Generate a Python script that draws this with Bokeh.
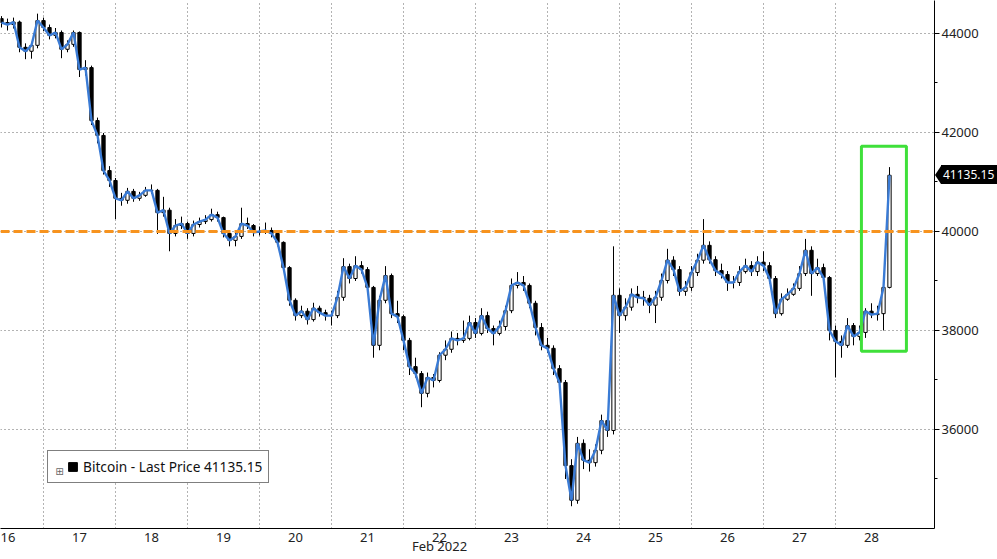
import pandas as pd
from bokeh.plotting import figure
from bokeh.layouts import column
from bokeh.models import (Range1d, FixedTicker, Span, BoxAnnotation, LinearAxis,
                          Legend, LegendItem, ColumnDataSource, Div)
from bokeh.embed import file_html
from bokeh.resources import INLINE

# ---- data: Bitcoin 2-hour bars, Feb 16 10:00 -> Feb 28 2022 ----
bar_start = "2022-02-16 10:00"
first_open = 44300
closes = [44220, 44180, 44230, 43720, 43640, 43760, 44260, 44120, 43960, 44020,
          43680, 43780, 44020, 43270, 43310, 42240, 41940, 41230, 41030, 40670,
          40630, 40810, 40670, 40730, 40830, 40830, 40380, 40430, 39960, 40120,
          40160, 39960, 40140, 40200, 40240, 40340, 40280, 39960, 39820, 39900,
          40160, 40120, 39980, 40000, 40020, 39960, 39780, 39270, 38610, 38300,
          38390, 38220, 38450, 38360, 38300, 38300, 38670, 39290, 39050, 39310,
          39230, 38870, 37700, 38610, 39110, 38340, 38280, 37800, 37270, 37130,
          36730, 37050, 36990, 37500, 37620, 37840, 37800, 37840, 38160, 37940,
          38300, 38040, 37940, 38080, 38400, 38910, 38970, 38910, 38550, 38060,
          37700, 37640, 37230, 36950, 35270, 34570, 35720, 35380, 35330, 35580,
          36180, 35980, 38710, 38300, 38470, 38730, 38670, 38650, 38510, 38670,
          39010, 39420, 39230, 38790, 38870, 39170, 39420, 39720, 39430, 39210,
          39130, 38970, 38970, 39190, 39310, 39190, 39380, 39310, 39050, 38340,
          38630, 38730, 38850, 39150, 39620, 39150, 39270, 39070, 38000, 37780,
          37700, 38100, 37880, 37960, 38390, 38320, 38340, 38870, 41135.15]
highs = [44350, 44300, 44320, 44260, 43800, 43830, 44400, 44320, 44180, 44110,
         44060, 43860, 44060, 44040, 43460, 43350, 42300, 41990, 41320, 41080,
         40780, 40880, 40860, 40800, 40900, 40950, 40860, 40700, 40480, 40250,
         40300, 40200, 40220, 40280, 40330, 40460, 40400, 40300, 40000, 39980,
         40480, 40280, 40150, 40100, 40180, 40080, 39990, 39800, 39300, 38650,
         38500, 38450, 38560, 38500, 38420, 38400, 38800, 39460, 39350, 39500,
         39400, 39280, 38900, 38700, 39300, 39150, 38600, 38320, 37850, 37450,
         37180, 37150, 37120, 37560, 37800, 37980, 37950, 38200, 38300, 38250,
         38450, 38380, 38100, 38200, 38500, 39050, 39180, 39100, 38950, 38600,
         38150, 37850, 37700, 37300, 37000, 35400, 35850, 35800, 35600, 35700,
         36300, 36250, 39700, 38850, 38650, 38850, 38900, 38800, 38720, 38800,
         39150, 39650, 39500, 39300, 39000, 39300, 39550, 40250, 39800, 39500,
         39350, 39200, 39100, 39300, 39450, 39400, 39500, 39600, 39380, 39100,
         38750, 38850, 38950, 39300, 39850, 39700, 39450, 39350, 39100, 38100,
         37900, 38250, 38150, 38100, 38450, 38550, 38500, 38900, 41300]
lows = [44120, 44060, 44100, 43620, 43480, 43490, 43700, 44050, 43880, 43900,
        43500, 43620, 43730, 43120, 43150, 42150, 41780, 41150, 40900, 40250,
        40520, 40560, 40600, 40620, 40700, 40760, 39950, 40300, 39600, 39900,
        40050, 39850, 39900, 40080, 40150, 40200, 40200, 39880, 39700, 39700,
        39850, 40050, 39900, 39920, 39950, 39880, 39700, 39200, 38500, 38200,
        38250, 38120, 38180, 38280, 38200, 38100, 38250, 38600, 38950, 39000,
        39150, 38800, 37450, 37600, 38550, 38250, 38150, 37600, 37100, 37050,
        36450, 36650, 36850, 36950, 37400, 37550, 37700, 37750, 37800, 37850,
        37900, 37950, 37700, 37900, 38000, 38350, 38850, 38800, 38450, 37900,
        37600, 37550, 37100, 36850, 35000, 34450, 34500, 35200, 35150, 35250,
        35500, 35850, 35900, 37950, 38200, 38400, 38550, 38500, 38350, 38150,
        38600, 38950, 39100, 38700, 38700, 38800, 39100, 39350, 39350, 39100,
        39050, 38800, 38850, 38900, 39150, 39100, 39100, 39200, 38950, 38250,
        38300, 38600, 38700, 38800, 39100, 38700, 39100, 38950, 37800, 37050,
        37450, 37650, 37700, 37800, 37850, 38250, 38200, 38000, 38850]

day_ticks = [16.5, 17.5, 18.5, 19.5, 20.5, 21.5, 22.5, 23.5, 24.5, 25.5, 26.5, 27.5, 28.5]
day_labels = ["16", "17", "18", "19", "20", "21", "22", "23", "24", "25", "26", "27", "28"]
day_bounds = [17, 18, 19, 20, 21, 22, 23, 24, 25, 26, 27, 28]
y_major = [36000, 38000, 40000, 42000, 44000]
y_minor = [35000, 37000, 39000, 41000, 43000]
ref_level = 40000
month_tick = 22.5
month_label = "Feb 2022"
series_name = "Bitcoin - Last Price"

# ---- build frame ----
ts = pd.date_range(bar_start, periods=len(closes), freq="2h")
t = [d.day + d.hour / 24.0 for d in ts]
opens = [first_open] + closes[:-1]
df = pd.DataFrame(dict(t=t, open=opens, close=closes, high=highs, low=lows))
df["top"] = df[["open", "close"]].max(axis=1)
df["bottom"] = df[["open", "close"]].min(axis=1)
up = ColumnDataSource(df[df.close >= df.open])
down = ColumnDataSource(df[df.close < df.open])
allsrc = ColumnDataSource(df)
last = closes[-1]

FONT = "Noto Sans"
W, H = 997, 559
frame_w, frame_h = 934, 528
px_per_day = 72.0
usd_per_px = 20.2
x0 = 17 - 43 / px_per_day
x1 = x0 + frame_w / px_per_day
y0 = 34000
y1 = y0 + frame_h * usd_per_px
p = figure(width=W, height=H, output_backend="svg", toolbar_location=None,
           x_range=Range1d(x0, x1), y_range=Range1d(y0, y1),
           y_axis_location="right", min_border_left=0, min_border_top=0,
           min_border_right=W - frame_w, min_border_bottom=H - frame_h)
p.outline_line_color = None
p.background_fill_color = "white"
p.border_fill_color = "white"

# grids
p.xgrid.ticker = FixedTicker(ticks=day_bounds)
p.ygrid.ticker = FixedTicker(ticks=y_major)
for g in (p.xgrid, p.ygrid):
    g.grid_line_color = "#666666"
    g.grid_line_dash = "1 3"
    g.grid_line_width = 1

# x axis
xa = p.xaxis[0]
xa.ticker = FixedTicker(ticks=day_ticks, minor_ticks=[])
xa.major_label_overrides = {k: v for k, v in zip(day_ticks, day_labels)}
xa.major_tick_out = 0
xa.major_tick_in = 0
xa.axis_line_color = "black"
xa.major_label_standoff = 4
xa.major_label_text_font = FONT
xa.major_label_text_font_size = "13px"
xa.major_label_text_color = "#222222"

# month caption as a second bottom axis with a single tick
ma = LinearAxis(ticker=FixedTicker(ticks=[month_tick], minor_ticks=[]),
                major_label_overrides={month_tick: month_label})
ma.axis_line_color = None
ma.major_tick_line_color = None
ma.major_tick_out = 0
ma.major_tick_in = 0
ma.major_label_standoff = -8
ma.major_label_text_font = FONT
ma.major_label_text_font_size = "13px"
ma.major_label_text_color = "#222222"
p.add_layout(ma, "below")

# y axis
ya = p.yaxis[0]
ya.ticker = FixedTicker(ticks=y_major, minor_ticks=y_minor)
ya.major_tick_out = 5
ya.major_tick_in = 0
ya.minor_tick_out = 3
ya.minor_tick_in = 0
ya.axis_line_color = "black"
ya.major_label_standoff = 2
ya.major_label_text_font = FONT
ya.major_label_text_font_size = "13px"
ya.major_label_text_color = "#222222"
ya.formatter.use_scientific = False

# reference level
p.add_layout(Span(location=ref_level, dimension="width", line_color="#F7931E",
                  line_width=3, line_dash="9 4"))

# candles
bw = 2 / 24.0 * 0.55
p.segment(x0="t", y0="high", x1="t", y1="low", source=allsrc, line_color="black", line_width=1)
r_up = p.vbar(x="t", width=bw, top="top", bottom="bottom", source=up,
              fill_color="white", line_color="black", line_width=1)
r_down = p.vbar(x="t", width=bw, top="top", bottom="bottom", source=down,
                fill_color="black", line_color="black", line_width=1)
p.line(x="t", y="close", source=allsrc, line_color="#3a7bd5", line_width=2.4)

# highlight box
p.add_layout(BoxAnnotation(left=28.36, right=28.985, bottom=37580, top=41720,
                           fill_alpha=0, line_color="#3fe03a", line_alpha=1, line_width=3))

# legend
legend = Legend(items=[LegendItem(label=f"{series_name} {last:.2f}", renderers=[r_down])],
                location=(47, 45), orientation="vertical")
legend.title = "\u229e"
legend.title_location = "left"
legend.title_text_font = "DejaVu Sans"
legend.title_text_font_size = "10px"
legend.title_text_font_style = "normal"
legend.title_text_color = "#666666"
legend.title_standoff = 2
legend.border_line_color = "black"
legend.border_line_width = 1
legend.background_fill_color = "white"
legend.background_fill_alpha = 1
legend.label_text_font = FONT
legend.label_text_font_size = "13.7px"
legend.label_text_color = "#111111"
legend.glyph_width = 11
legend.glyph_height = 11
legend.padding = 6
legend.margin = 0
legend.label_standoff = 5
p.add_layout(legend)

# last-price tag on the price axis (black box, white text, pointer)
tag_h = 19
tag_top = round((y1 - last) / usd_per_px - tag_h / 2)
tag_html = (
    '<div style="display:flex;align-items:center;height:19px;">'
    '<div style="width:0;height:0;border-top:9px solid transparent;'
    'border-bottom:9px solid transparent;border-right:6px solid black;"></div>'
    '<div style="background:black;color:white;font-family:\'Noto Sans\';font-size:12px;'
    'line-height:19px;height:19px;padding:0 3px 0 2px;white-space:nowrap;">'
    f'{last:.2f}</div></div>'
)
tag = Div(text=tag_html, width=W - frame_w - 1, height=tag_h,
          styles={"position": "absolute", "left": f"{frame_w + 1}px",
                  "top": f"{tag_top}px", "margin": "0", "padding": "0",
                  "z-index": "10"})

layout = column(p, tag, spacing=0)
open("out.html", "w").write(file_html(layout, INLINE))
